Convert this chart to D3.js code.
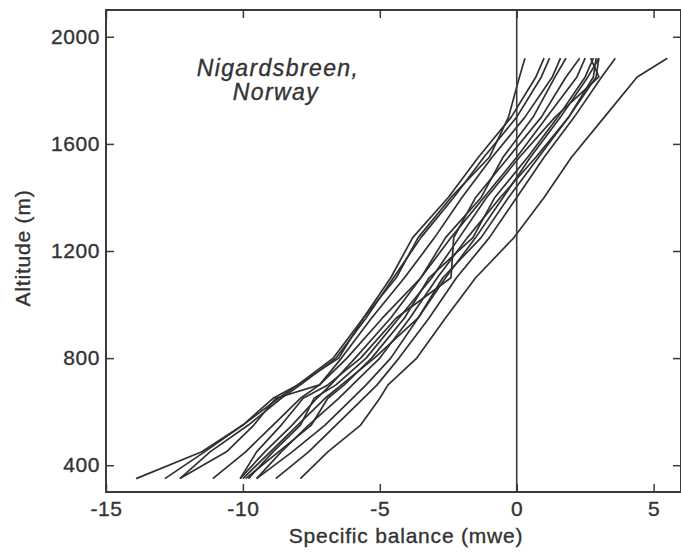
<!DOCTYPE html>
<html>
<head>
<meta charset="utf-8">
<script src="https://cdn.jsdelivr.net/npm/d3@7"></script>
<style>
  html, body { margin: 0; padding: 0; background: #fff; }
  svg text { font-family: "Liberation Sans", Arial, sans-serif; fill: #333; stroke: #333; stroke-width: 0.35px; }
  .tick-label { font-size: 21px; letter-spacing: 0.6px; }
  .axis-title { font-size: 21px; letter-spacing: 0.8px; }
  .site { font-size: 23px; font-style: italic; letter-spacing: 1.4px; }
  .profile { fill: none; stroke: #303030; stroke-width: 1.7; stroke-linejoin: round; }
</style>
</head>
<body>
<div id="chart"></div>
<script>
// altitude levels (m) shared by every profile
const altitudes = [350, 450, 550, 650, 700, 800, 950, 1100, 1250, 1400, 1550, 1700, 1850, 1920];

// specific balance (mwe) per year
const profA = [-7.9, -6.9, -5.7, -5.0, -4.7, -3.65, -2.6, -1.5, -0.1, 1.0, 2.0, 3.2, 4.4, 5.5];
const profB = [-8.8, -7.6, -6.6, -5.6, -5.1, -4.3, -3.2, -2.2, -1.0, 0.0, 1.0, 2.1, 3.1, 3.6];
const profC = [-9.5, -8.2, -7.0, -6.0, -5.5, -4.6, -3.6, -2.6, -1.5, -0.5, 0.5, 1.6, 2.6, 3.0];
const profD = [-9.5, -8.6, -7.6, -6.5, -6.0, -5.0, -3.9, -2.9, -1.8, -0.6, 0.7, 1.9, 2.8, 2.9];
const profE = [-9.8, -8.9, -7.9, -7.4, -6.6, -5.5, -4.3, -3.1, -2.1, -1.1, 0.1, 1.4, 3.0, 2.7];
const profF = [-10.1, -9.2, -8.2, -7.3, -6.8, -5.9, -4.6, -3.5, -2.4, -1.2, 0.0, 1.1, 2.2, 2.5];
const profG = [-10.1, -9.5, -8.6, -7.8, -6.9, -5.7, -4.4, -2.4, -2.3, -1.5, -0.3, 0.9, 1.8, 2.3];
const profH = [-11.1, -9.9, -8.9, -7.9, -7.2, -6.2, -4.9, -3.5, -2.6, -1.3, -0.5, 0.6, 1.4, 1.8];
const profI = [-12.3, -10.6, -9.6, -8.8, -7.2, -6.4, -5.3, -4.1, -3.0, -2.0, -0.9, 0.3, 1.3, 1.6];
const profJ = [-12.3, -11.2, -9.8, -8.6, -7.9, -6.6, -5.5, -4.5, -3.5, -2.3, -1.2, 0.0, 0.9, 1.2];
const profK = [-12.85, -11.4, -10.0, -8.7, -8.0, -6.7, -5.6, -4.6, -3.8, -2.5, -1.4, -0.2, 0.7, 1.0];
const profL = [-13.9, -11.5, -10.0, -8.9, -8.0, -6.5, -5.6, -4.4, -3.6, -2.4, -1.0, -0.3, 0.1, 0.3];
const profM = [-9.9, -8.7, -7.5, -6.9, -6.3, -5.3, -4.1, -3.2, -1.6, -0.8, 0.4, 1.5, 2.5, 2.8];
const profN = [-10.0, -9.0, -8.0, -7.0, -6.4, -5.2, -3.6, -2.7, -1.3, -0.3, 0.8, 1.9, 2.9, 3.0];

const profiles = [profA, profB, profC, profD, profE, profF, profG, profH, profI, profJ, profK, profL, profM, profN];

const xTicks = [-15, -10, -5, 0, 5];
const yTicks = [400, 800, 1200, 1600, 2000];

const W = 681, H = 553;
const plotL = 106, plotR = 681, plotT = 10, plotB = 492;

const svg = d3.select("#chart").append("svg")
  .attr("width", W).attr("height", H);

const x = d3.scaleLinear().domain([-15, 6]).range([plotL, plotR]);
const y = d3.scaleLinear().domain([300, 2100]).range([plotB, plotT]);

// profiles
const line = d3.line().x(d => x(d[0])).y(d => y(d[1]));
svg.append("g").selectAll("path")
  .data(profiles)
  .join("path")
  .attr("class", "profile")
  .attr("d", p => line(p.map((v, i) => [v, altitudes[i]])));

// frame and zero line
const frame = svg.append("g").attr("stroke", "#3a3a3a").attr("stroke-width", 2).attr("fill", "none");
frame.append("rect").attr("x", plotL).attr("y", plotT).attr("width", plotR - plotL).attr("height", plotB - plotT);
frame.append("line").attr("x1", x(0)).attr("x2", x(0)).attr("y1", plotT).attr("y2", plotB).attr("stroke-width", 1.6);

// axes with inward ticks (plain hyphen minus like the original)
const fmt = d => String(d);
const axStyle = g => {
  g.select(".domain").remove();
  g.selectAll(".tick line").attr("stroke", "#3a3a3a").attr("stroke-width", 1.5);
  g.selectAll(".tick text").attr("class", "tick-label").attr("fill", "#333")
    .attr("font-family", null).attr("font-size", null);
};
svg.append("g").attr("transform", `translate(0,${plotB})`)
  .call(d3.axisBottom(x).tickValues(xTicks).tickSizeInner(-8).tickSizeOuter(0).tickPadding(9).tickFormat(fmt))
  .call(axStyle);
svg.append("g").attr("transform", `translate(0,${plotT})`)
  .call(d3.axisTop(x).tickValues(xTicks).tickSizeInner(-8).tickSizeOuter(0).tickFormat(""))
  .call(axStyle);
svg.append("g").attr("transform", `translate(${plotL},0)`)
  .call(d3.axisLeft(y).tickValues(yTicks).tickSizeInner(-8).tickSizeOuter(0).tickPadding(6).tickFormat(fmt))
  .call(axStyle);
svg.append("g").attr("transform", `translate(${plotR},0)`)
  .call(d3.axisRight(y).tickValues(yTicks).tickSizeInner(-8).tickSizeOuter(0).tickFormat(""))
  .call(axStyle);

// axis titles
svg.append("text").attr("class", "axis-title")
  .attr("x", 406).attr("y", 543).attr("text-anchor", "middle")
  .text("Specific balance (mwe)");
svg.append("text").attr("class", "axis-title")
  .attr("transform", `translate(30,248) rotate(-90)`).attr("text-anchor", "middle")
  .text("Altitude (m)");

// site label
svg.append("text").attr("class", "site").attr("x", 278).attr("y", 76).attr("text-anchor", "middle").text("Nigardsbreen,");
svg.append("text").attr("class", "site").attr("x", 276).attr("y", 100).attr("text-anchor", "middle").text("Norway");
</script>
</body>
</html>
